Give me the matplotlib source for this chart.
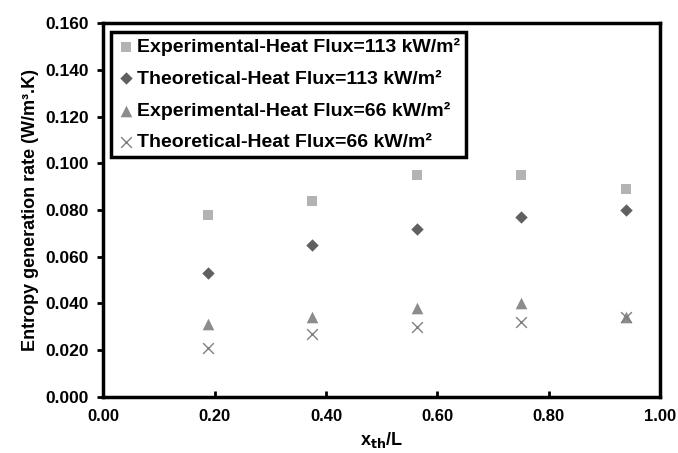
import matplotlib
matplotlib.use("Agg")
import matplotlib.pyplot as plt

plt.rcParams["font.family"] = ["Liberation Sans", "DejaVu Sans"]
plt.rcParams["font.weight"] = "bold"

# data
x_pos = [0.1875, 0.375, 0.5625, 0.75, 0.9375]
exp_113 = [0.078, 0.084, 0.095, 0.095, 0.089]
theo_113 = [0.053, 0.065, 0.072, 0.077, 0.080]
exp_66 = [0.031, 0.034, 0.038, 0.040, 0.034]
theo_66 = [0.021, 0.027, 0.030, 0.032, 0.034]

x_ticks = [0.0, 0.2, 0.4, 0.6, 0.8, 1.0]
y_ticks = [0.0, 0.02, 0.04, 0.06, 0.08, 0.10, 0.12, 0.14, 0.16]

fig = plt.figure(figsize=(6.78, 4.53), dpi=100)
ax = fig.add_axes([0.152, 0.124, 0.822, 0.825])

ax.scatter(x_pos, exp_113, marker="s", s=60, color="#b3b3b3", lw=0,
           label="Experimental-Heat Flux=113 kW/m\u00b2")
ax.scatter(x_pos, theo_113, marker="D", s=40, color="#606060", lw=0,
           label="Theoretical-Heat Flux=113 kW/m\u00b2")
ax.scatter(x_pos, exp_66, marker="^", s=70, color="#8c8c8c", lw=0,
           label="Experimental-Heat Flux=66 kW/m\u00b2")
ax.scatter(x_pos, theo_66, marker="x", s=60, color="#808080", lw=1.0,
           label="Theoretical-Heat Flux=66 kW/m\u00b2")

ax.set_xlim(0, 1.0)
ax.set_ylim(0, 0.16)
ax.set_xticks(x_ticks)
ax.set_yticks(y_ticks)
ax.set_xticklabels([f"{v:.2f}" for v in x_ticks], fontsize=12, fontweight="bold")
ax.set_yticklabels([f"{v:.3f}" for v in y_ticks], fontsize=12.5, fontweight="bold")
ax.tick_params(axis="x", direction="in", length=4, width=2, pad=9)
ax.tick_params(axis="y", direction="out", length=4, width=2, pad=6)
for sp in ax.spines.values():
    sp.set_linewidth(2.5)

ax.set_xlabel("x$_{\\mathbf{th}}$/L", fontsize=13, fontweight="bold", labelpad=4)
ax.set_ylabel("Entropy generation rate (W/m\u00b3.K)", fontsize=13,
              fontweight="bold", labelpad=5)

leg = ax.legend(loc="upper left", bbox_to_anchor=(0.015, 0.976), fontsize=14,
                frameon=True, fancybox=False, framealpha=1, handletextpad=0.1,
                handlelength=0.9, borderpad=0.3, labelspacing=0.72,
                borderaxespad=0)
leg.get_frame().set_edgecolor("black")
leg.get_frame().set_linewidth(2.5)
for t in leg.get_texts():
    t.set_fontweight("bold")

fig.savefig("out.png", dpi=100, facecolor="white")
